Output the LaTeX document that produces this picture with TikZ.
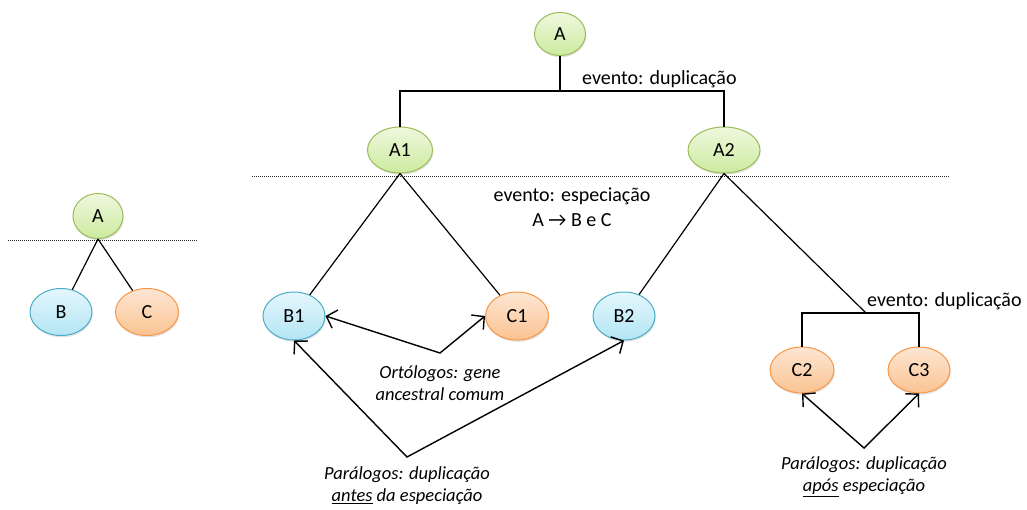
\documentclass[tikz,border=0pt]{standalone}
\usepackage{fontspec}
\setmainfont{Carlito}
\usetikzlibrary{shapes.geometric,arrows.meta,shadows}
\definecolor{grnB}{HTML}{9BBB59}
\definecolor{grnT}{HTML}{EEF8DE}
\definecolor{grnF}{HTML}{CDEB9F}
\definecolor{bluB}{HTML}{4BACC6}
\definecolor{bluT}{HTML}{E4F7FD}
\definecolor{bluF}{HTML}{B3E5F4}
\definecolor{orgB}{HTML}{F79646}
\definecolor{orgT}{HTML}{FDE6D3}
\definecolor{orgF}{HTML}{FBC392}
\tikzset{
  gene/.style={ellipse, inner sep=0pt, line width=1pt,
    drop shadow={shadow xshift=0.8pt, shadow yshift=-1.8pt, opacity=0.22},
    font=\fontsize{20}{24}\selectfont},
  gA/.style={gene, draw=grnB, top color=grnT, bottom color=grnF},
  gB/.style={gene, draw=bluB, top color=bluT, bottom color=bluF},
  gC/.style={gene, draw=orgB, top color=orgT, bottom color=orgF},
  branch/.style={line width=1.2pt},
  divider/.style={line width=0.9pt, dash pattern=on 1pt off 1pt, black!85},
  rel/.style={line width=1.4pt, {Straight Barb[length=9pt,width=19pt]}-{Straight Barb[length=9pt,width=19pt]}},
  lbl/.style={font=\fontsize{20}{24}\selectfont, inner sep=0pt},
  note/.style={font=\fontsize{18.5}{22}\selectfont\itshape, align=center, inner sep=0pt}
}
\begin{document}
\begin{tikzpicture}[x=1pt,y=-1pt]
\useasboundingbox (0,0) rectangle (1027,509);

% small tree on the left
\draw[divider] (8,240) -- (198,240);
\node[gA, minimum width=50pt, minimum height=45pt] (sA) at (98,216) {A};
\node[gB, minimum width=62pt, minimum height=47pt] (sB) at (61,312) {B};
\node[gC, minimum width=63pt, minimum height=47pt] (sC) at (147,312) {C};
\draw[branch] (sA.south) -- (sB);
\draw[branch] (sA.south) -- (sC);

% main tree
\draw[divider] (252,176) -- (950,176);
\node[gA, minimum width=51pt, minimum height=43pt] (A) at (560,34) {A};
\node[gA, minimum width=65pt, minimum height=46pt] (A1) at (400,150) {A1};
\node[gA, minimum width=72pt, minimum height=46pt] (A2) at (724,150) {A2};
\node[gB, minimum width=62pt, minimum height=48pt] (B1) at (294,316) {B1};
\node[gC, minimum width=63pt, minimum height=48pt] (C1) at (517,316) {C1};
\node[gB, minimum width=62pt, minimum height=48pt] (B2) at (624,316) {B2};
\node[gC, minimum width=64pt, minimum height=46pt] (C2) at (802,370) {C2};
\node[gC, minimum width=62pt, minimum height=46pt] (C3) at (919,370) {C3};

% duplication of A
\coordinate (jA) at (560,91);
\draw[branch] (A.south) -- (jA);
\draw[branch] (A1.north) |- (jA) -| (A2.north);
\node[lbl, anchor=base west] (dup1) at (582,84) {evento: duplicação};

% speciation
\draw[branch] (A1.south) -- (B1);
\draw[branch] (A1.south) -- (C1);
\draw[branch] (A2.south) -- (B2);
\node[lbl] (spec) at (572,196) {evento: especiação};
\node[lbl] (specAB) at (572,220) {A → B e C};

% duplication in the C lineage
\coordinate (jC) at (866,313);
\draw[branch] (A2.south) -- (jC);
\draw[branch] (C2.north) |- (jC) -| (C3.north);
\node[lbl, anchor=base west] (dup2) at (867,306) {evento: duplicação};

% orthologs
\coordinate (vO) at (440,353);
\draw[rel] (B1.east) -- (vO) -- (C1.west);
\node[note] (orto) at (440,383) {Ortólogos: gene\\ancestral comum};

% paralogs before speciation
\coordinate (vP1) at (407,457);
\draw[rel] (B1.south) -- (vP1) -- (B2.south);
\node[note] (para1) at (407,486) {Parálogos: duplicação\\\underline{antes} da especiação};

% paralogs after speciation
\coordinate (vP2) at (864,448);
\draw[rel] (C2.south) -- (vP2) -- (C3.south);
\node[note] (para2) at (864,477) {Parálogos: duplicação\\\underline{após} especiação};
\end{tikzpicture}
\end{document}
